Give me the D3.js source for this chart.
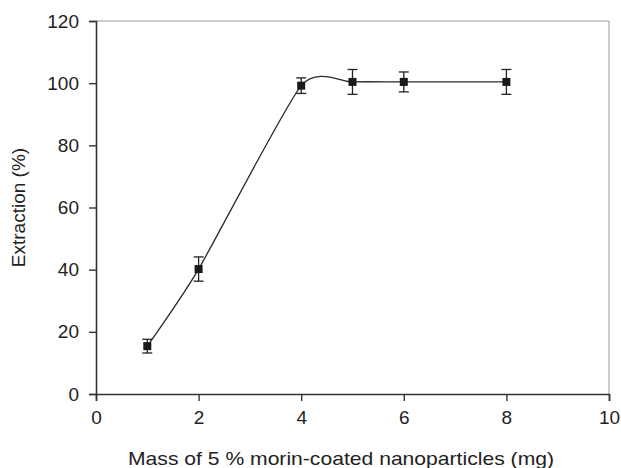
<!DOCTYPE html>
<html>
<head>
<meta charset="utf-8">
<script src="https://cdn.jsdelivr.net/npm/d3@7"></script>
<style>
  body { margin: 0; background: #fff; }
  svg { display: block; font-family: "Liberation Sans", Arial, sans-serif; }
</style>
</head>
<body>
<div id="chart"></div>
<script>
const mass = [1, 2, 4, 5, 6, 8];
const extraction = [15.4, 40.2, 99.2, 100.4, 100.4, 100.4];
const errors = [2.2, 3.9, 2.5, 4.0, 3.2, 4.0];
const xTicks = [0, 2, 4, 6, 8, 10];
const yTicks = [0, 20, 40, 60, 80, 100, 120];

const width = 621;
const height = 468;
const margin = { top: 21, right: 12, bottom: 74, left: 96 };
const innerW = width - margin.left - margin.right;
const innerH = height - margin.top - margin.bottom;

const svg = d3.select('#chart')
  .append('svg')
  .attr('width', width)
  .attr('height', height);

const g = svg.append('g')
  .attr('transform', `translate(${margin.left},${margin.top})`);

const x = d3.scaleLinear().domain([0, 10]).range([0, innerW]);
const y = d3.scaleLinear().domain([0, 120]).range([innerH, 0]);

// top and right frame
g.append('line')
  .attr('x1', 0).attr('x2', innerW).attr('y1', 0).attr('y2', 0)
  .attr('stroke', '#9a9a9a').attr('stroke-width', 1);
g.append('line')
  .attr('x1', innerW).attr('x2', innerW).attr('y1', 0).attr('y2', innerH)
  .attr('stroke', '#9a9a9a').attr('stroke-width', 1);

// axes
const xAxis = g.append('g')
  .attr('transform', `translate(0,${innerH})`)
  .call(d3.axisBottom(x).tickValues(xTicks).tickSize(7).tickPadding(10));
const yAxis = g.append('g')
  .call(d3.axisLeft(y).tickValues(yTicks).tickSize(7).tickPadding(10));

[xAxis, yAxis].forEach((a) => {
  a.select('.domain').attr('stroke', '#333').attr('stroke-width', 1.6);
  a.selectAll('.tick line').attr('stroke', '#333').attr('stroke-width', 1.4);
  a.selectAll('.tick text')
    .attr('fill', '#222')
    .style('font-size', '19px')
    .style('font-family', '"Liberation Sans", Arial, sans-serif');
});

// data
const data = mass.map((m, i) => ({ x: m, y: extraction[i], e: errors[i] }));

const line = d3.line()
  .x((d) => x(d.x))
  .y((d) => y(d.y))
  .curve(d3.curveCardinal.tension(0.4));

g.append('path')
  .datum(data)
  .attr('d', line)
  .attr('fill', 'none')
  .attr('stroke', '#2a2a2a')
  .attr('stroke-width', 1.3);

// error bars
const bars = g.selectAll('.err')
  .data(data)
  .enter()
  .append('g')
  .attr('class', 'err')
  .attr('stroke', '#222')
  .attr('stroke-width', 1.3);

bars.append('line')
  .attr('x1', (d) => x(d.x)).attr('x2', (d) => x(d.x))
  .attr('y1', (d) => y(d.y + d.e)).attr('y2', (d) => y(d.y - d.e));
bars.append('line')
  .attr('x1', (d) => x(d.x) - 5).attr('x2', (d) => x(d.x) + 5)
  .attr('y1', (d) => y(d.y + d.e)).attr('y2', (d) => y(d.y + d.e));
bars.append('line')
  .attr('x1', (d) => x(d.x) - 5).attr('x2', (d) => x(d.x) + 5)
  .attr('y1', (d) => y(d.y - d.e)).attr('y2', (d) => y(d.y - d.e));

// markers
g.selectAll('.pt')
  .data(data)
  .enter()
  .append('rect')
  .attr('class', 'pt')
  .attr('x', (d) => x(d.x) - 4)
  .attr('y', (d) => y(d.y) - 4)
  .attr('width', 8)
  .attr('height', 8)
  .attr('fill', '#1a1a1a');

// axis titles
svg.append('text')
  .attr('x', 341)
  .attr('y', 465)
  .attr('text-anchor', 'middle')
  .attr('fill', '#222')
  .attr('textLength', 426)
  .attr('lengthAdjust', 'spacingAndGlyphs')
  .style('font-size', '19px')
  .text('Mass of 5 % morin-coated nanoparticles (mg)');

svg.append('text')
  .attr('transform', `translate(25,${margin.top + innerH / 2}) rotate(-90)`)
  .attr('text-anchor', 'middle')
  .attr('fill', '#222')
  .style('font-size', '19px')
  .text('Extraction (%)');
</script>
</body>
</html>
